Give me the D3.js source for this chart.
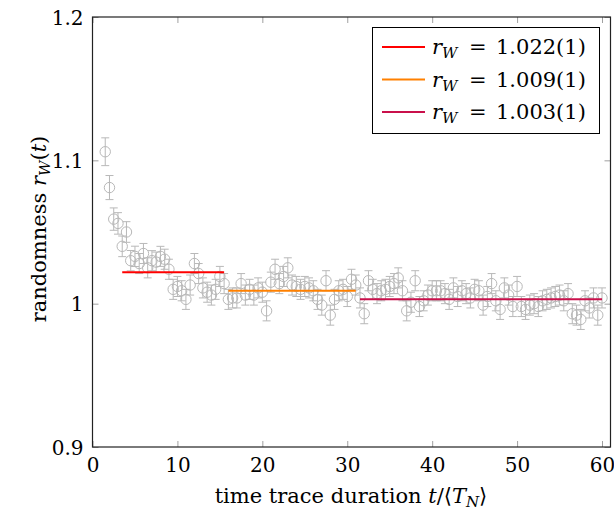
<!DOCTYPE html>
<html>
<head>
<meta charset="utf-8">
<script src="https://cdn.jsdelivr.net/npm/d3@7"></script>
<style>
  body { margin: 0; background: #fff; }
  text { font-family: "DejaVu Serif", serif; fill: #000; }
</style>
</head>
<body>
<div id="chart"></div>
<script>
// time trace duration t / <T_N>
const tVals = [1.5, 2, 2.5, 3, 3.5, 4, 4.5, 5, 5.5, 6, 6.5, 7, 7.5, 8, 8.5, 9, 9.5, 10,
  10.5, 11, 11.5, 12, 12.5, 13, 13.5, 14, 14.5, 15, 15.5, 16, 16.5, 17, 17.5, 18, 18.5, 19,
  19.5, 20, 20.5, 21, 21.5, 22, 22.5, 23, 23.5, 24, 24.5, 25, 25.5, 26, 26.5, 27, 27.5, 28,
  28.5, 29, 29.5, 30, 30.5, 31, 31.5, 32, 32.5, 33, 33.5, 34, 34.5, 35, 35.5, 36, 36.5, 37,
  37.5, 38, 38.5, 39, 39.5, 40, 40.5, 41, 41.5, 42, 42.5, 43, 43.5, 44, 44.5, 45, 45.5, 46,
  46.5, 47, 47.5, 48, 48.5, 49, 49.5, 50, 50.5, 51, 51.5, 52, 52.5, 53, 53.5, 54, 54.5, 55,
  55.5, 56, 56.5, 57, 57.5, 58, 58.5, 59, 59.5, 60];

// randomness r_W(t)
const rVals = [1.106, 1.081, 1.059, 1.056, 1.040, 1.050, 1.030, 1.033, 1.028, 1.035, 1.025, 1.030,
  1.029, 1.033, 1.031, 1.024, 1.010, 1.012, 1.009, 1.003, 1.013, 1.028, 1.021, 1.011, 1.008, 1.006,
  1.010, 1.019, 1.014, 1.003, 1.004, 1.004, 1.014, 1.006, 1.010, 1.006, 1.011, 1.008, 0.995, 1.015,
  1.024, 1.014, 1.019, 1.025, 1.013, 1.012, 1.010, 1.012, 1.011, 1.009, 1.003, 0.999, 1.016, 0.992,
  1.003, 1.009, 1.010, 1.005, 1.017, 1.013, 1.004, 0.993, 1.016, 1.010, 1.007, 1.009, 1.010, 1.012,
  1.014, 1.018, 1.009, 0.995, 1.001, 1.016, 0.998, 1.002, 1.006, 1.009, 1.009, 1.009, 1.007, 1.003,
  1.011, 1.005, 1.009, 1.007, 1.004, 1.010, 1.009, 0.999, 1.005, 1.014, 1.002, 0.996, 1.011, 1.006,
  0.998, 1.012, 0.998, 0.996, 0.999, 1.000, 0.998, 1.002, 1.003, 1.004, 1.005, 1.006, 1.002, 1.007,
  0.993, 0.992, 0.989, 1.002, 0.997, 1.004, 0.992, 1.004];

// error bar half-heights
const rErr = [0.0097, 0.0084, 0.0078, 0.0075, 0.0072, 0.0072, 0.0071, 0.0071, 0.0070, 0.0070,
  0.0070, 0.0070, 0.0070, 0.0070, 0.0070, 0.0070, 0.0070, 0.0070, 0.0070, 0.0070, 0.0070, 0.0070,
  0.0070, 0.0070, 0.0070, 0.0070, 0.0070, 0.0070, 0.0070, 0.0070, 0.0070, 0.0070, 0.0070, 0.0070,
  0.0070, 0.0070, 0.0070, 0.0070, 0.0070, 0.0070, 0.0070, 0.0070, 0.0070, 0.0070, 0.0070, 0.0070,
  0.0070, 0.0070, 0.0070, 0.0070, 0.0070, 0.0070, 0.0070, 0.0070, 0.0070, 0.0070, 0.0070, 0.0070,
  0.0070, 0.0070, 0.0070, 0.0070, 0.0070, 0.0070, 0.0070, 0.0070, 0.0070, 0.0070, 0.0070, 0.0070,
  0.0070, 0.0070, 0.0070, 0.0070, 0.0070, 0.0070, 0.0070, 0.0070, 0.0070, 0.0070, 0.0070, 0.0070,
  0.0070, 0.0070, 0.0070, 0.0070, 0.0070, 0.0070, 0.0070, 0.0070, 0.0070, 0.0070, 0.0070, 0.0070,
  0.0070, 0.0070, 0.0070, 0.0070, 0.0070, 0.0070, 0.0070, 0.0070, 0.0070, 0.0070, 0.0070, 0.0070,
  0.0070, 0.0070, 0.0070, 0.0070, 0.0070, 0.0070, 0.0070, 0.0070, 0.0070, 0.0070, 0.0070, 0.0070];

// fitted plateaus
const fitLabels = ["1.022(1)", "1.009(1)", "1.003(1)"];
const fitValues = [1.022, 1.009, 1.003];
const fitStart = [3.5, 16, 31.5];
const fitEnd = [15.5, 31, 60];
const fitColors = ["#ff0000", "#ff8000", "#c9104b"];

const xTicks = [0, 10, 20, 30, 40, 50, 60];
const yTicks = [0.9, 1, 1.1, 1.2];

const width = 614;
const height = 512;
const serif = "DejaVu Serif, serif";
const tickSize = 20;
const labelSize = 21;
const subSize = 15;

const svg = d3.select("#chart")
    .append("svg")
    .attr("width", width)
    .attr("height", height)
    .attr("font-family", serif);

// scales, plot box 92.5..610 x 17..447
const x = d3.scaleLinear().domain([0, 61]).range([92.5, 610.5]);
const y = d3.scaleLinear().domain([0.9, 1.2]).range([447, 17]);

const points = tVals.map((t, i) => ({ t: t, r: rVals[i], e: rErr[i] }));

// error bars + open circles
const grey = "#b8b8b8";
const pts = svg.append("g");
pts.selectAll("path.err")
    .data(points)
    .enter().append("path")
    .attr("class", "err")
    .attr("fill", "none")
    .attr("stroke", grey)
    .attr("stroke-width", 1)
    .attr("d", function (d) {
        const cx = x(d.t), y0 = y(d.r - d.e), y1 = y(d.r + d.e);
        return "M" + cx + "," + y0 + "V" + y1 +
            "M" + (cx - 4) + "," + y0 + "H" + (cx + 4) +
            "M" + (cx - 4) + "," + y1 + "H" + (cx + 4);
    });
pts.selectAll("circle")
    .data(points)
    .enter().append("circle")
    .attr("cx", d => x(d.t))
    .attr("cy", d => y(d.r))
    .attr("r", 5.2)
    .attr("fill", "none")
    .attr("stroke", grey)
    .attr("stroke-width", 1);

// fit lines
svg.append("g").selectAll("line")
    .data(fitValues)
    .enter().append("line")
    .attr("x1", (d, i) => x(fitStart[i]))
    .attr("x2", (d, i) => x(fitEnd[i]))
    .attr("y1", d => y(d))
    .attr("y2", d => y(d))
    .attr("stroke", (d, i) => fitColors[i])
    .attr("stroke-width", 2);

// axes, ticks inside and mirrored
const tickLen = 6;
const axisBottom = svg.append("g")
    .attr("transform", "translate(0," + y.range()[0] + ")")
    .call(d3.axisBottom(x).tickValues(xTicks).tickSizeInner(-tickLen).tickSizeOuter(0));
const axisTop = svg.append("g")
    .attr("transform", "translate(0," + y.range()[1] + ")")
    .call(d3.axisTop(x).tickValues(xTicks).tickSizeInner(-tickLen).tickSizeOuter(0).tickFormat(""));
const axisLeft = svg.append("g")
    .attr("transform", "translate(" + x.range()[0] + ",0)")
    .call(d3.axisLeft(y).tickValues(yTicks).tickSizeInner(-tickLen).tickSizeOuter(0)
        .tickFormat(d => d === 1 ? "1" : d3.format(".1f")(d)));
const axisRight = svg.append("g")
    .attr("transform", "translate(" + x.range()[1] + ",0)")
    .call(d3.axisRight(y).tickValues(yTicks).tickSizeInner(-tickLen).tickSizeOuter(0).tickFormat(""));

[axisBottom, axisTop, axisLeft, axisRight].forEach(function (a) {
    a.attr("font-family", serif).attr("font-size", tickSize);
    a.select(".domain").remove();
    a.selectAll(".tick line").attr("stroke", "#888").attr("stroke-width", 0.8);
    a.selectAll("text").attr("fill", "#000");
});
axisBottom.selectAll(".tick text").attr("y", 25).attr("dy", 0);
axisLeft.selectAll(".tick text").attr("x", -9).attr("dy", "0.36em");

// frame
svg.append("rect")
    .attr("x", x.range()[0])
    .attr("y", y.range()[1])
    .attr("width", x.range()[1] - x.range()[0])
    .attr("height", y.range()[0] - y.range()[1])
    .attr("fill", "none")
    .attr("stroke", "#222")
    .attr("stroke-width", 1.2);

// axis labels
const xl = svg.append("text")
    .attr("x", 351)
    .attr("y", 503)
    .attr("text-anchor", "middle")
    .attr("font-size", labelSize);
xl.append("tspan").text("time trace duration ");
xl.append("tspan").attr("font-style", "italic").text("t");
xl.append("tspan").text("/\u27E8");
xl.append("tspan").attr("font-style", "italic").text("T");
xl.append("tspan").attr("font-style", "italic").attr("font-size", subSize).attr("dy", 4).text("N");
xl.append("tspan").attr("dy", -4).text("\u27E9");

const yl = svg.append("text")
    .attr("transform", "translate(46,229) rotate(-90)")
    .attr("text-anchor", "middle")
    .attr("font-size", labelSize);
yl.append("tspan").text("randomness ");
yl.append("tspan").attr("font-style", "italic").text("r");
yl.append("tspan").attr("font-style", "italic").attr("font-size", subSize).attr("dy", 4).text("W");
yl.append("tspan").attr("dy", -4).text("(");
yl.append("tspan").attr("font-style", "italic").text("t");
yl.append("tspan").text(")");

// legend
const legend = svg.append("g");
legend.append("rect")
    .attr("x", 372.5)
    .attr("y", 27.5)
    .attr("width", 227)
    .attr("height", 106)
    .attr("fill", "#fff")
    .attr("stroke", "#000")
    .attr("stroke-width", 1);
fitLabels.forEach(function (lab, i) {
    const ly = 47 + i * 32.5;
    legend.append("line")
        .attr("x1", 382).attr("x2", 425)
        .attr("y1", ly).attr("y2", ly)
        .attr("stroke", fitColors[i])
        .attr("stroke-width", 2);
    const t = legend.append("text")
        .attr("x", 432)
        .attr("y", ly + 7)
        .attr("font-size", labelSize);
    t.append("tspan").attr("font-style", "italic").text("r");
    t.append("tspan").attr("font-style", "italic").attr("font-size", subSize).attr("dy", 4).text("W");
    t.append("tspan").attr("x", 469).attr("dy", -4).text("=");
    t.append("tspan").attr("x", 496).text(lab);
});
</script>
</body>
</html>
